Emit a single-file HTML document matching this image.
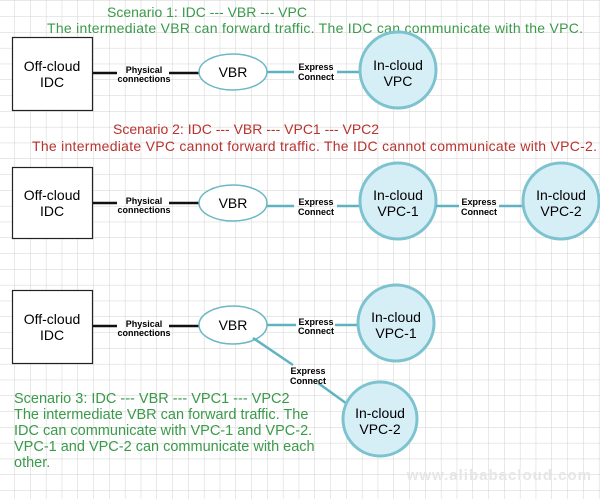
<!DOCTYPE html>
<html><head><meta charset="utf-8"><style>
html,body{margin:0;padding:0;background:#fff}
svg{display:block}
text{font-family:"Liberation Sans",Arial,sans-serif}
</style></head><body>
<svg width="600" height="499" viewBox="0 0 600 499" xmlns="http://www.w3.org/2000/svg">
<defs>
<pattern id="g" width="15.8" height="15.8" patternUnits="userSpaceOnUse" x="-1" y="1">
<path d="M15.8 0V15.8M0 15.8H15.8" stroke="#d2d2d2" stroke-width="1" fill="none"/>
</pattern>
</defs>
<rect width="600" height="499" fill="url(#g)"/>

<!-- Scenario 1 -->
<text x="107" y="17" font-size="14" fill="#3a9a4a">Scenario 1: IDC --- VBR --- VPC</text>
<text x="47" y="33" font-size="14" fill="#3a9a4a" textLength="536">The intermediate VBR can forward traffic. The IDC can communicate with the VPC.</text>
<rect x="12.5" y="37.5" width="80" height="73" fill="#fff" stroke="#222" stroke-width="1.2"/>
<text x="52" y="71" font-size="14" text-anchor="middle">Off-cloud</text>
<text x="52" y="87" font-size="14" text-anchor="middle">IDC</text>
<path d="M93 73H117M169 73H199" stroke="#111" stroke-width="2.5"/>
<text x="144" y="73" font-size="9" font-weight="bold" text-anchor="middle">Physical</text>
<text x="144" y="82" font-size="9" font-weight="bold" text-anchor="middle">connections</text>
<ellipse cx="233" cy="72" rx="34" ry="18" fill="#fff" stroke="#6bb8c4" stroke-width="1.5"/>
<text x="233" y="77" font-size="14" text-anchor="middle">VBR</text>
<path d="M267 72H294M337 72H359" stroke="#5fb3c0" stroke-width="2.5"/>
<text x="316" y="70" font-size="9" font-weight="bold" text-anchor="middle">Express</text>
<text x="316" y="80" font-size="9" font-weight="bold" text-anchor="middle">Connect</text>
<circle cx="398" cy="70" r="38" fill="#d6eef5" stroke="#7cc3cf" stroke-width="3"/>
<text x="398" y="70" font-size="14" text-anchor="middle">In-cloud</text>
<text x="398" y="86" font-size="14" text-anchor="middle">VPC</text>

<!-- Scenario 2 -->
<text x="113" y="134" font-size="14" fill="#b8322e">Scenario 2: IDC --- VBR --- VPC1 --- VPC2</text>
<text x="32" y="151" font-size="14" fill="#b8322e" textLength="565">The intermediate VPC cannot forward traffic. The IDC cannot communicate with VPC-2.</text>
<rect x="12.5" y="167.5" width="80" height="71" fill="#fff" stroke="#222" stroke-width="1.2"/>
<text x="52" y="200" font-size="14" text-anchor="middle">Off-cloud</text>
<text x="52" y="216" font-size="14" text-anchor="middle">IDC</text>
<path d="M93 203H117M169 203H199" stroke="#111" stroke-width="2.5"/>
<text x="144" y="204" font-size="9" font-weight="bold" text-anchor="middle">Physical</text>
<text x="144" y="213" font-size="9" font-weight="bold" text-anchor="middle">connections</text>
<ellipse cx="233" cy="203" rx="34" ry="18" fill="#fff" stroke="#6bb8c4" stroke-width="1.5"/>
<text x="233" y="208" font-size="14" text-anchor="middle">VBR</text>
<path d="M267 206H294M337 206H360" stroke="#5fb3c0" stroke-width="2.5"/>
<text x="316" y="205" font-size="9" font-weight="bold" text-anchor="middle">Express</text>
<text x="316" y="215" font-size="9" font-weight="bold" text-anchor="middle">Connect</text>
<circle cx="398" cy="201" r="38" fill="#d6eef5" stroke="#7cc3cf" stroke-width="3"/>
<text x="398" y="200" font-size="14" text-anchor="middle">In-cloud</text>
<text x="398" y="216" font-size="14" text-anchor="middle">VPC-1</text>
<path d="M436 206H459M499 206H523" stroke="#5fb3c0" stroke-width="2.5"/>
<text x="479" y="205" font-size="9" font-weight="bold" text-anchor="middle">Express</text>
<text x="479" y="215" font-size="9" font-weight="bold" text-anchor="middle">Connect</text>
<circle cx="561" cy="201" r="38" fill="#d6eef5" stroke="#7cc3cf" stroke-width="3"/>
<text x="561" y="200" font-size="14" text-anchor="middle">In-cloud</text>
<text x="561" y="216" font-size="14" text-anchor="middle">VPC-2</text>

<!-- Scenario 3 -->
<rect x="12.5" y="290.5" width="80" height="73" fill="#fff" stroke="#222" stroke-width="1.2"/>
<text x="52" y="324" font-size="14" text-anchor="middle">Off-cloud</text>
<text x="52" y="340" font-size="14" text-anchor="middle">IDC</text>
<path d="M93 326H117M169 326H199" stroke="#111" stroke-width="2.5"/>
<text x="144" y="327" font-size="9" font-weight="bold" text-anchor="middle">Physical</text>
<text x="144" y="336" font-size="9" font-weight="bold" text-anchor="middle">connections</text>
<ellipse cx="233" cy="325" rx="34" ry="19" fill="#fff" stroke="#6bb8c4" stroke-width="1.5"/>
<text x="233" y="330" font-size="14" text-anchor="middle">VBR</text>
<path d="M267 325H296M335 325H361" stroke="#5fb3c0" stroke-width="2.5"/>
<text x="316" y="325" font-size="9" font-weight="bold" text-anchor="middle">Express</text>
<text x="316" y="334" font-size="9" font-weight="bold" text-anchor="middle">Connect</text>
<circle cx="396" cy="323" r="38" fill="#d6eef5" stroke="#7cc3cf" stroke-width="3"/>
<text x="396" y="322" font-size="14" text-anchor="middle">In-cloud</text>
<text x="396" y="338" font-size="14" text-anchor="middle">VPC-1</text>
<path d="M253 338L293 365M318 383L350 406" stroke="#5fb3c0" stroke-width="2.5"/>
<text x="308" y="374" font-size="9" font-weight="bold" text-anchor="middle">Express</text>
<text x="308" y="384" font-size="9" font-weight="bold" text-anchor="middle">Connect</text>
<circle cx="380" cy="419" r="37" fill="#d6eef5" stroke="#7cc3cf" stroke-width="3"/>
<text x="380" y="418" font-size="14" text-anchor="middle">In-cloud</text>
<text x="380" y="434" font-size="14" text-anchor="middle">VPC-2</text>

<g font-size="14.5" fill="#3a9a4a">
<text x="14" y="403">Scenario 3: IDC --- VBR --- VPC1 --- VPC2</text>
<text x="14" y="419">The intermediate VBR can forward traffic. The</text>
<text x="14" y="435">IDC can communicate with VPC-1 and VPC-2.</text>
<text x="14" y="451">VPC-1 and VPC-2 can communicate with each</text>
<text x="14" y="467">other.</text>
</g>
<text x="592" y="480" font-size="15" fill="#e6e6e6" text-anchor="end" font-weight="bold" letter-spacing="1">www.alibabacloud.com</text>
</svg>
</body></html>
